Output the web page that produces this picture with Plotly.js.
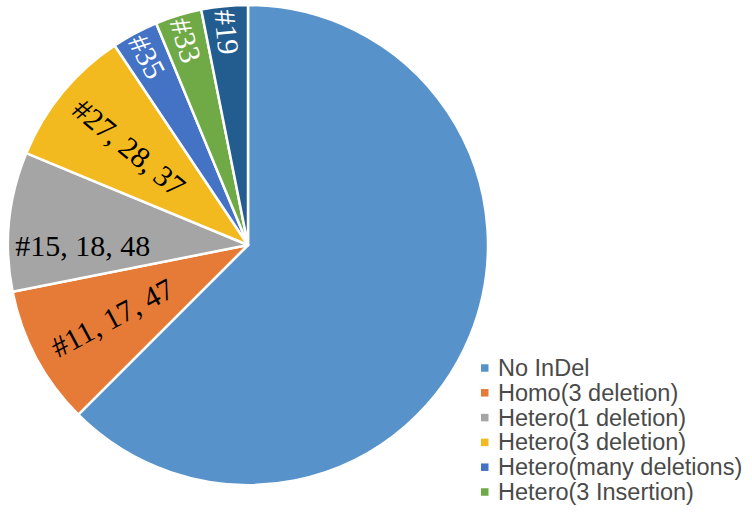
<!DOCTYPE html>
<html>
<head>
<meta charset="utf-8">
<script src="https://cdn.plot.ly/plotly-3.0.1.min.js"></script>
<style>html,body{margin:0;padding:0;background:#fff;}#chart{width:752px;height:512px;}</style>
</head>
<body>
<div id="chart"></div>
<script>
// Data
const labels = ["No InDel", "Homo(3 deletion)", "Hetero(1 deletion)", "Hetero(3 deletion)", "Hetero(many deletions)", "Hetero(3 Insertion)", "Other"];
const values = [20, 3, 3, 3, 1, 1, 1];
const sliceText = ["", "#11, 17, 47", "#15, 18, 48", "#27, 28, 37", "#35", "#33", "#19"];
const colors = ["#5793CA", "#E57B36", "#A5A5A5", "#F2BA1F", "#4472C4", "#6FAA46", "#235C8E"];
const textColors = ["#000000", "#000000", "#000000", "#000000", "#FFFFFF", "#FFFFFF", "#FFFFFF"];
const legendCount = 6;

const W = 752, H = 512;
const px = v => v / W, py = v => 1 - v / H;

const trace = {
  type: "pie",
  labels: labels,
  values: values,
  text: sliceText,
  textinfo: "text",
  textposition: "inside",
  insidetextorientation: "radial",
  insidetextfont: {family: "Liberation Serif, Times New Roman, serif", size: 30, color: textColors},
  sort: false,
  direction: "clockwise",
  rotation: 0,
  marker: {colors: colors, line: {color: "#FFFFFF", width: 2.5}},
  hoverinfo: "label+value",
  showlegend: false,
  domain: {x: [px(8), px(488)], y: [py(485), py(5)]}
};

const shapes = [], annotations = [];
for (let i = 0; i < legendCount; i++) {
  const yc = 368 + i * 24.8;
  shapes.push({type: "rect", xref: "paper", yref: "paper",
    x0: px(481), x1: px(488.5), y0: py(yc + 3.75), y1: py(yc - 3.75),
    fillcolor: colors[i], line: {width: 0}});
  annotations.push({xref: "paper", yref: "paper", x: px(496), y: py(yc),
    xanchor: "left", yanchor: "middle", showarrow: false, text: labels[i],
    font: {family: "Liberation Sans, Arial, sans-serif", size: 23.5, color: "#4A4A4A"}});
}

const layout = {
  width: W, height: H,
  margin: {l: 0, r: 0, t: 0, b: 0},
  paper_bgcolor: "#FFFFFF",
  showlegend: false,
  shapes: shapes,
  annotations: annotations
};

Plotly.newPlot("chart", [trace], layout, {displayModeBar: false, staticPlot: true});
</script>
</body>
</html>
